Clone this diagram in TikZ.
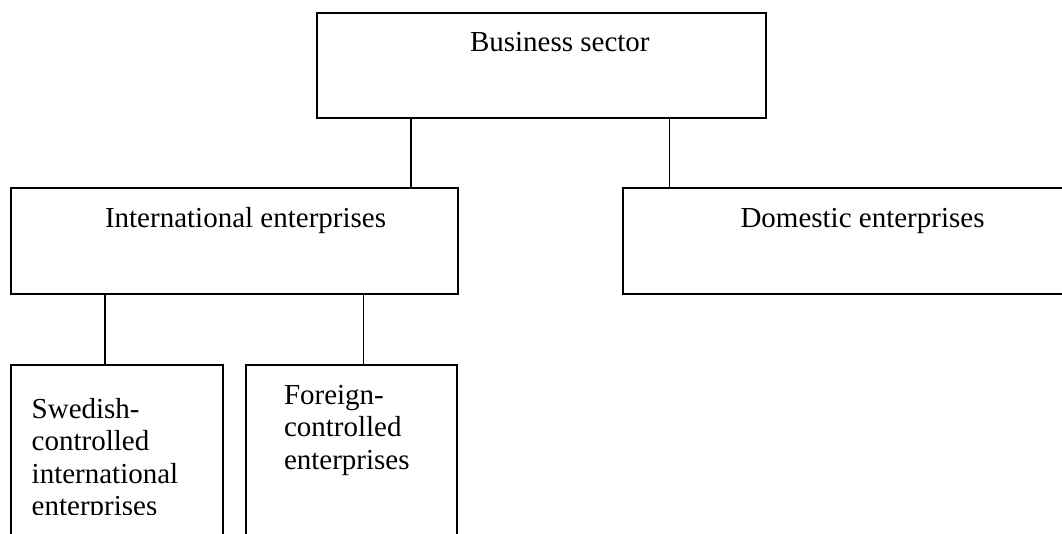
\documentclass[tikz,border=0pt]{standalone}
\usepackage{fontspec}
\setmainfont{Liberation Serif}
\begin{document}
\begin{tikzpicture}[x=1pt,y=-1pt]
        \tikzstyle{every node}=[inner sep=0pt, outer sep=0pt, font=\fontsize{29}{32.5}\selectfont]
        \tikzstyle{box}=[draw, rectangle, line width=2pt]
        \tikzstyle{link}=[line width=1.5pt]
        \useasboundingbox (0,0) rectangle (1062,533);
        % boxes
        \node[box, minimum width=449, minimum height=105] (bs) at (541.5,65) {};
        \node[box, minimum width=446.5, minimum height=105.5] (ie) at (234.25,241.2) {};
        \node[box, minimum width=457, minimum height=105.5] (de) at (851.5,241.2) {};
        \node[box, minimum width=212, minimum height=195] (sw) at (117,462) {};
        \node[box, minimum width=211, minimum height=195] (fc) at (351.5,462) {};
        % labels (base = last line)
        \node[anchor=base west] (bst) at (470,51.7) {Business sector};
        \node[anchor=base west] (iet) at (105,227.3) {International enterprises};
        \node[anchor=base west] (det) at (740.5,227.3) {Domestic enterprises};
        \begin{scope}
            \clip (0,0) rectangle (1062,514);
            \node[anchor=base west, align=left] (swt) at (31.7,515.8) {Swedish-\\controlled\\international\\enterprises};
        \end{scope}
        \node[anchor=base west, align=left] (fct) at (284,469) {Foreign-\\controlled\\enterprises};
        % links
        \draw[link] ([xshift=-130.5]bs.south) -- ([xshift=-130.5]bs.south |- ie.north);
        \draw[link] ([xshift=128]bs.south) -- ([xshift=128]bs.south |- de.north);
        \draw[link] ([xshift=-129.25]ie.south) -- ([xshift=-129.25]ie.south |- sw.north);
        \draw[link] ([xshift=129.25]ie.south) -- ([xshift=129.25]ie.south |- fc.north);
\end{tikzpicture}
\end{document}
